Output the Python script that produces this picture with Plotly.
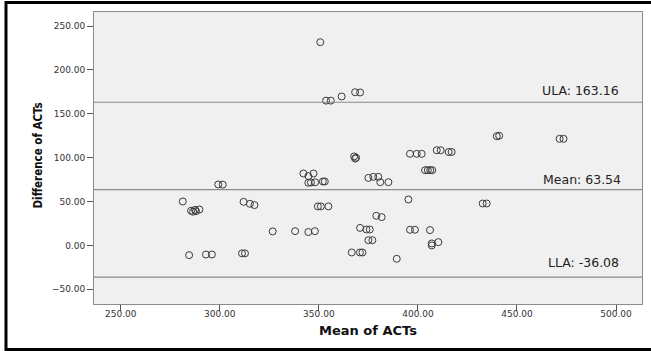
import plotly.graph_objects as go

# Bland-Altman data
mean_acts = [281.3, 285.5, 286.5, 287.5, 288.0, 289.7, 284.5, 293.0, 296.0, 299.2,
             301.5, 312.0, 315.2, 317.5, 311.2, 312.7, 326.7, 338.0, 344.7, 348.0,
             342.2, 344.7, 347.3, 344.7, 346.0, 348.1, 352.0, 353.0, 349.5, 351.0,
             354.8, 350.7, 353.6, 356.0, 361.5, 368.3, 370.8, 367.8, 368.8, 368.3,
             366.6, 370.7, 372.0, 370.8, 374.0, 375.7, 375.0, 377.0, 379.0, 381.7,
             375.0, 377.5, 380.0, 381.0, 385.1, 389.3, 395.2, 396.0, 398.5, 396.0,
             399.4, 401.9, 403.6, 405.0, 406.2, 407.2, 406.1, 407.0, 407.0, 410.3,
             409.5, 411.5, 415.5, 417.0, 432.7, 434.7, 439.8, 441.0, 471.5, 473.5]
diff_acts = [50.1, 39.5, 38.5, 40.5, 39.0, 41.0, -11.0, -10.3, -10.3, 69.5,
             69.3, 49.7, 47.5, 46.0, -9.0, -9.0, 16.0, 16.3, 15.3, 16.3,
             82.0, 79.0, 82.0, 71.4, 71.8, 72.0, 72.9, 72.9, 44.5, 44.5,
             44.5, 231.6, 165.0, 165.0, 169.7, 174.6, 174.3, 101.5, 100.0, 99.0,
             -8.0, -8.0, -8.0, 20.0, 18.2, 18.2, 6.0, 6.0, 33.8, 32.3,
             77.0, 78.2, 78.2, 72.1, 72.1, -15.2, 52.4, 17.9, 17.9, 104.4,
             104.4, 104.4, 85.8, 85.8, 85.8, 85.8, 17.5, 2.3, 0.0, 3.8,
             108.5, 108.5, 106.5, 106.5, 47.8, 47.8, 124.5, 125.0, 121.5, 121.5]

ref_values = [163.16, 63.54, -36.08]
ref_labels = ["ULA: 163.16", "Mean: 63.54", "LLA: -36.08"]

x_ticks = [250, 300, 350, 400, 450, 500]
y_ticks = [-50, 0, 50, 100, 150, 200, 250]

fig = go.Figure()
fig.add_trace(go.Scatter(
    x=mean_acts, y=diff_acts, mode="markers",
    marker=dict(symbol="circle-open", size=7, color="#3a3a3a", line=dict(width=1)),
    showlegend=False, hoverinfo="x+y"))

shapes = []
for v in ref_values:
    shapes.append(dict(type="line", xref="paper", yref="y", x0=0, x1=1, y0=v, y1=v,
                       line=dict(color="#8a8a8a", width=1.2)))
# outer black frame
shapes.append(dict(type="rect", xref="paper", yref="paper",
                   x0=-0.1606, x1=1.04, y0=-0.1558, y1=1.0325,
                   line=dict(color="black", width=3), fillcolor="rgba(0,0,0,0)", layer="above"))

label_shift = [12, 10, 15]
label_x = [0.961, 0.966, 0.961]
annotations = []
for v, t, s, lx in zip(ref_values, ref_labels, label_shift, label_x):
    annotations.append(dict(x=lx, xref="paper", y=v, yref="y", text=t, showarrow=False,
                            xanchor="right", yanchor="middle", yshift=s,
                            font=dict(family="DejaVu Sans, Arial", size=12.5, color="#222")))
annotations.append(dict(x=0.5, xref="paper", y=0, yref="paper", text="<b>Mean of ACTs</b>",
                        showarrow=False, xanchor="center", yanchor="middle", yshift=-26,
                        font=dict(family="DejaVu Sans, Arial", size=13, color="#111")))
annotations.append(dict(x=0, xref="paper", y=0.5, yref="paper", text="<b>Difference of ACTs</b>",
                        showarrow=False, xanchor="center", yanchor="middle", xshift=-56.5,
                        yshift=2, textangle=-90,
                        font=dict(family="Liberation Sans Narrow, DejaVu Sans Condensed, Arial Narrow, Arial",
                                  size=11.5, color="#111")))

axis_common = dict(showgrid=False, zeroline=False, showline=True, mirror=True,
                   linecolor="#8c8c8c", linewidth=1, ticks="outside", ticklen=6,
                   tickcolor="#555", tickwidth=1, tickformat=".2f",
                   tickfont=dict(family="DejaVu Sans, Arial", size=9, color="#333"))

fig.update_layout(
    width=651, height=351,
    margin=dict(l=94, r=9, t=12, b=47),
    paper_bgcolor="white", plot_bgcolor="#f0f0f0",
    xaxis=dict(range=[236.5, 513.1], tickvals=x_ticks, ticklabelstandoff=-5, **axis_common),
    yaxis=dict(range=[-66.7, 266.0], tickvals=y_ticks, **axis_common),
    shapes=shapes, annotations=annotations,
)

fig.write_html("out.html", config={"displayModeBar": False},
               post_script="document.body.style.margin='0';document.body.style.overflow='hidden';")
